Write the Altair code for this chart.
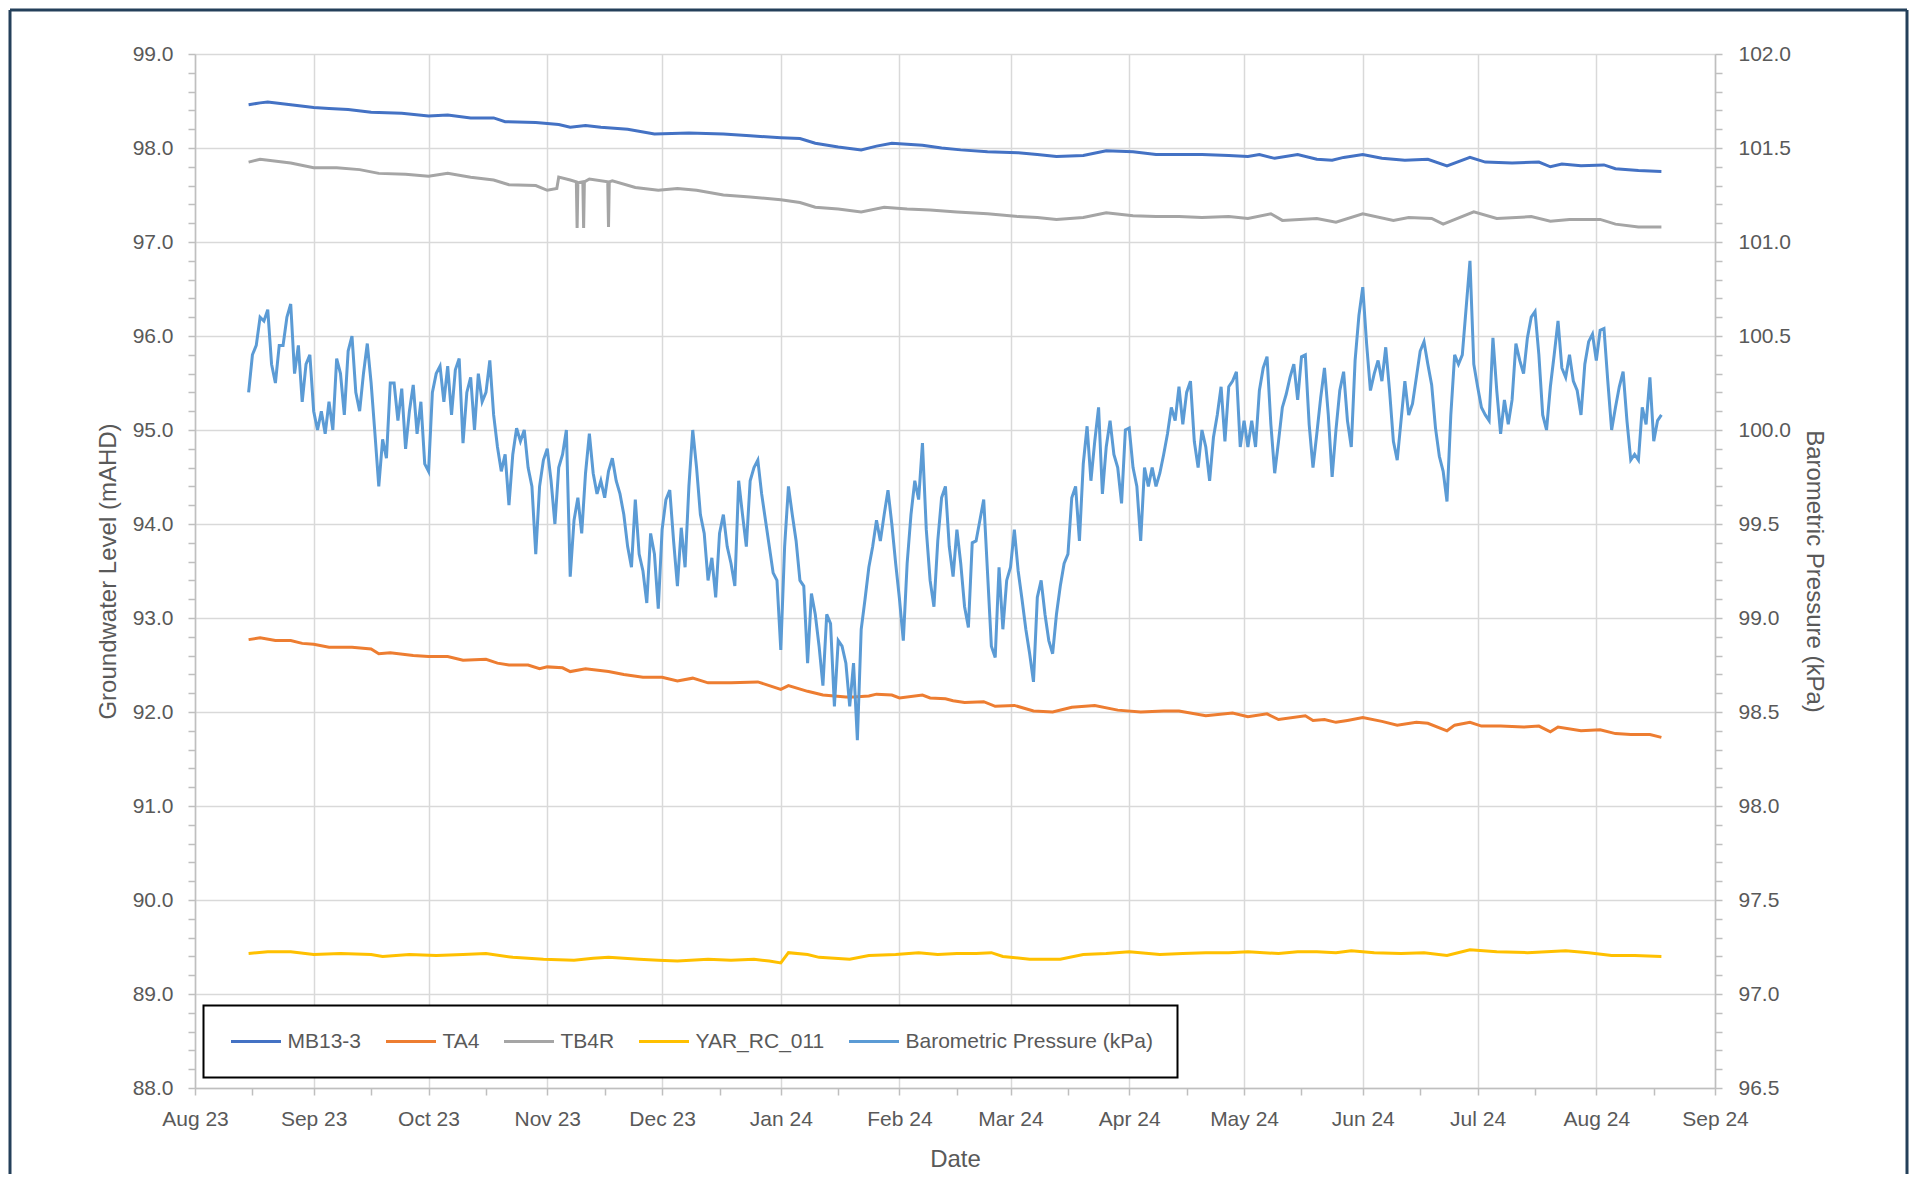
import altair as alt
import pandas as pd

FONT = "Liberation Sans"
TEXT = "#595959"
FRAME = "#24405A"

SERIES = ["MB13-3", "TA4", "TB4R", "YAR_RC_011", "Barometric Pressure (kPa)"]
COLORS = ["#4472C4", "#ED7D31", "#A5A5A5", "#FFC000", "#5B9BD5"]

# groundwater series: day offsets counted from BASE_DATE, levels in mAHD
BASE_DATE = "2023-08-01"

mb13_day = [14, 17, 19, 25, 31, 35, 40, 46, 54, 61, 66, 72, 78, 81, 89, 95, 98, 102, 106, 113,
            120, 129, 138, 145, 153, 158, 162, 168, 174, 178, 182, 186, 190, 195, 200, 207, 215, 220, 225, 232,
            238, 245, 251, 257, 263, 270, 275, 278, 282, 288, 293, 297, 300, 305, 310, 316, 322, 327, 333, 337,
            344, 351, 354, 357, 362, 368, 371, 377, 383]
mb13_level = [98.46, 98.48, 98.49, 98.46, 98.43, 98.42, 98.41, 98.38, 98.37, 98.34,
              98.35, 98.32, 98.32, 98.28, 98.27, 98.25, 98.22, 98.24, 98.22, 98.20,
              98.15, 98.16, 98.15, 98.13, 98.11, 98.10, 98.05, 98.01, 97.98, 98.02,
              98.05, 98.04, 98.03, 98.00, 97.98, 97.96, 97.95, 97.93, 97.91, 97.92,
              97.97, 97.96, 97.93, 97.93, 97.93, 97.92, 97.91, 97.93, 97.89, 97.93,
              97.88, 97.87, 97.90, 97.93, 97.89, 97.87, 97.88, 97.81, 97.90, 97.85,
              97.84, 97.85, 97.80, 97.83, 97.81, 97.82, 97.78, 97.76, 97.75]

ta4_day = [14, 17, 21, 25, 28, 31, 35, 41, 46, 48, 51, 57, 61, 66, 70, 76, 79, 82, 87, 90,
           92, 96, 98, 102, 108, 112, 117, 122, 126, 130, 134, 140, 147, 150, 153, 155, 160, 164, 170, 172,
           176, 178, 182, 184, 190, 192, 196, 198, 201, 206, 209, 214, 219, 224, 229, 235, 241, 247, 253, 257,
           264, 271, 275, 280, 283, 290, 292, 295, 298, 301, 305, 310, 314, 319, 322, 327, 329, 333, 336, 341,
           347, 351, 354, 356, 362, 367, 371, 375, 380, 383]
ta4_level = [92.77, 92.79, 92.76, 92.76, 92.73, 92.72, 92.69, 92.69, 92.67, 92.62,
             92.63, 92.60, 92.59, 92.59, 92.55, 92.56, 92.52, 92.50, 92.50, 92.46,
             92.48, 92.47, 92.43, 92.46, 92.43, 92.40, 92.37, 92.37, 92.33, 92.36,
             92.31, 92.31, 92.32, 92.28, 92.24, 92.28, 92.22, 92.18, 92.16, 92.16,
             92.17, 92.19, 92.18, 92.15, 92.18, 92.15, 92.14, 92.12, 92.10, 92.11,
             92.06, 92.07, 92.01, 92.00, 92.05, 92.07, 92.02, 92.00, 92.01, 92.01,
             91.96, 91.99, 91.95, 91.98, 91.92, 91.96, 91.91, 91.92, 91.89, 91.91,
             91.94, 91.90, 91.86, 91.89, 91.88, 91.80, 91.86, 91.89, 91.85, 91.85,
             91.84, 91.85, 91.79, 91.84, 91.80, 91.81, 91.77, 91.76, 91.76, 91.73]

tb4r_day = [14, 17, 25, 31, 37, 43, 48, 55, 61, 66, 72, 78, 82, 89, 92, 94.5, 95, 98, 99.6, 99.8,
            100.0, 101.3, 101.5, 101.7, 103, 107.8, 108.0, 108.2, 109, 115, 121, 126, 131, 138, 145, 153, 158, 162, 168, 174,
            180, 186, 192, 199, 207, 215, 220, 225, 232, 238, 245, 251, 257, 263, 270, 275, 281, 284, 293, 298,
            305, 313, 317, 323, 326, 334, 340, 349, 354, 359, 367, 371, 377, 383]
tb4r_level = [97.85, 97.88, 97.84, 97.79, 97.79, 97.77, 97.73, 97.72, 97.70, 97.73,
              97.69, 97.66, 97.61, 97.60, 97.55, 97.57, 97.69, 97.66, 97.64, 97.15,
              97.63, 97.64, 97.15, 97.64, 97.67, 97.64, 97.16, 97.64, 97.65, 97.58,
              97.55, 97.57, 97.55, 97.50, 97.48, 97.45, 97.42, 97.37, 97.35, 97.32,
              97.37, 97.35, 97.34, 97.32, 97.30, 97.27, 97.26, 97.24, 97.26, 97.31,
              97.28, 97.27, 97.27, 97.26, 97.27, 97.25, 97.30, 97.23, 97.25, 97.21,
              97.30, 97.23, 97.26, 97.25, 97.19, 97.32, 97.25, 97.27, 97.22, 97.24,
              97.24, 97.19, 97.16, 97.16]

yar_day = [14, 19, 25, 31, 38, 46, 49, 56, 63, 70, 76, 83, 91, 99, 104, 108, 116, 121, 126, 134,
           140, 146, 150, 153, 155, 160, 163, 171, 176, 183, 189, 194, 199, 204, 208, 211, 218, 226, 232, 238,
           244, 252, 258, 264, 270, 275, 283, 288, 293, 298, 302, 308, 315, 321, 327, 333, 340, 348, 353, 358,
           364, 370, 376, 383]
yar_level = [89.43, 89.45, 89.45, 89.42, 89.43, 89.42, 89.40, 89.42, 89.41, 89.42,
             89.43, 89.39, 89.37, 89.36, 89.38, 89.39, 89.37, 89.36, 89.35, 89.37,
             89.36, 89.37, 89.35, 89.33, 89.44, 89.42, 89.39, 89.37, 89.41, 89.42,
             89.44, 89.42, 89.43, 89.43, 89.44, 89.40, 89.37, 89.37, 89.42, 89.43,
             89.45, 89.42, 89.43, 89.44, 89.44, 89.45, 89.43, 89.45, 89.45, 89.44,
             89.46, 89.44, 89.43, 89.44, 89.41, 89.47, 89.45, 89.44, 89.45, 89.46,
             89.44, 89.41, 89.41, 89.40]

# barometric pressure: one reading per day from BARO_START, kPa
BARO_START = "2023-08-15"
baro_kpa = [
    100.20, 100.40, 100.45, 100.60, 100.58, 100.64, 100.35, 100.25, 100.45, 100.45,
    100.60, 100.67, 100.30, 100.45, 100.15, 100.35, 100.40, 100.10, 100.00, 100.10,
    99.98, 100.15, 100.00, 100.38, 100.30, 100.08, 100.42, 100.50, 100.20, 100.10,
    100.30, 100.46, 100.25, 99.98, 99.70, 99.95, 99.85, 100.25, 100.25, 100.05,
    100.22, 99.90, 100.10, 100.24, 99.98, 100.15, 99.82, 99.78, 100.20, 100.30,
    100.34, 100.15, 100.34, 100.08, 100.32, 100.38, 99.93, 100.20, 100.28, 100.00,
    100.30, 100.15, 100.20, 100.37, 100.08, 99.91, 99.78, 99.87, 99.60, 99.87,
    100.01, 99.94, 100.00, 99.80, 99.70, 99.34, 99.70, 99.84, 99.90, 99.73,
    99.50, 99.80, 99.87, 100.00, 99.22, 99.52, 99.64, 99.45, 99.77, 99.98,
    99.77, 99.66, 99.73, 99.64, 99.78, 99.85, 99.73, 99.66, 99.55, 99.38,
    99.27, 99.63, 99.34, 99.25, 99.08, 99.45, 99.34, 99.05, 99.47, 99.63,
    99.68, 99.41, 99.17, 99.48, 99.27, 99.70, 100.00, 99.80, 99.55, 99.45,
    99.20, 99.32, 99.11, 99.45, 99.55, 99.38, 99.29, 99.17, 99.73, 99.55,
    99.38, 99.73, 99.80, 99.84, 99.66, 99.52, 99.38, 99.24, 99.20, 98.83,
    99.38, 99.70, 99.55, 99.41, 99.20, 99.17, 98.76, 99.13, 99.02, 98.85,
    98.64, 99.02, 98.97, 98.53, 98.88, 98.85, 98.76, 98.53, 98.76, 98.35,
    98.94, 99.10, 99.27, 99.38, 99.52, 99.41, 99.55, 99.68, 99.50, 99.29,
    99.10, 98.88, 99.29, 99.55, 99.73, 99.63, 99.93, 99.47, 99.20, 99.06,
    99.41, 99.64, 99.70, 99.38, 99.22, 99.47, 99.29, 99.06, 98.95, 99.40,
    99.41, 99.52, 99.63, 99.24, 98.85, 98.79, 99.27, 98.94, 99.20, 99.27,
    99.47, 99.25, 99.10, 98.94, 98.81, 98.66, 99.11, 99.20, 99.02, 98.88,
    98.81, 99.02, 99.17, 99.29, 99.34, 99.64, 99.70, 99.41, 99.82, 100.02,
    99.73, 99.94, 100.12, 99.66, 99.91, 100.05, 99.87, 99.80, 99.61, 100.00,
    100.01, 99.80, 99.70, 99.41, 99.80, 99.70, 99.80, 99.70, 99.77, 99.87,
    99.98, 100.12, 100.05, 100.23, 100.03, 100.20, 100.26, 99.94, 99.80, 100.00,
    99.91, 99.73, 99.96, 100.08, 100.23, 99.94, 100.23, 100.26, 100.31, 99.91,
    100.05, 99.91, 100.05, 99.91, 100.21, 100.33, 100.39, 100.03, 99.77, 99.94,
    100.12, 100.19, 100.28, 100.35, 100.16, 100.39, 100.40, 100.03, 99.80, 99.98,
    100.17, 100.33, 100.08, 99.75, 100.00, 100.21, 100.31, 100.05, 99.91, 100.37,
    100.61, 100.76, 100.46, 100.21, 100.30, 100.37, 100.26, 100.44, 100.21, 99.94,
    99.84, 100.05, 100.26, 100.08, 100.14, 100.28, 100.42, 100.47, 100.35, 100.24,
    100.01, 99.86, 99.78, 99.62, 100.08, 100.40, 100.35, 100.40, 100.65, 100.90,
    100.35, 100.23, 100.12, 100.08, 100.05, 100.49, 100.21, 99.98, 100.16, 100.03,
    100.16, 100.46, 100.37, 100.30, 100.49, 100.60, 100.63, 100.40, 100.08, 100.00,
    100.23, 100.40, 100.58, 100.33, 100.28, 100.40, 100.26, 100.21, 100.08, 100.35,
    100.47, 100.51, 100.37, 100.53, 100.54, 100.26, 100.00, 100.12, 100.23, 100.31,
    100.05, 99.84, 99.87, 99.84, 100.12, 100.03, 100.28, 99.94, 100.05, 100.08,
]

# axis ticks
MONTHS = [(2023, m) for m in range(8, 13)] + [(2024, m) for m in range(1, 10)]
x_ticks = []
for i, (yy, mm) in enumerate(MONTHS):
    x_ticks.append(alt.DateTime(year=yy, month=mm, date=1))
    if i < len(MONTHS) - 1:
        x_ticks.append(alt.DateTime(year=yy, month=mm, date=16))
left_ticks = [round(88 + 0.2 * i, 1) for i in range(56)]
right_ticks = [round(96.5 + 0.1 * i, 1) for i in range(56)]

# ---- tables
base = pd.Timestamp(BASE_DATE)
rows = []
for name, days, vals in [("MB13-3", mb13_day, mb13_level), ("TA4", ta4_day, ta4_level),
                         ("TB4R", tb4r_day, tb4r_level), ("YAR_RC_011", yar_day, yar_level)]:
    for d, v in zip(days, vals):
        rows.append({"date": base + pd.Timedelta(days=d), "level": v, "series": name})
gw = pd.DataFrame(rows)
baro = pd.DataFrame({"date": pd.date_range(BARO_START, periods=len(baro_kpa), freq="D"),
                     "kpa": baro_kpa, "series": SERIES[4]})

color = alt.Color(
    "series:N",
    scale=alt.Scale(domain=SERIES, range=COLORS),
    sort=SERIES,
    legend=alt.Legend(
        orient="none", legendX=8.5, legendY=951.5, direction="horizontal", columns=5,
        title=None, symbolType="stroke", symbolSize=2500, symbolStrokeWidth=3,
        symbolOffset=2, labelOffset=5, columnPadding=21, padding=24, clipHeight=24,
        strokeColor="#000000", fillColor="#FFFFFF", labelLimit=600,
        labelFont=FONT, labelFontSize=21, labelColor=TEXT,
    ),
)

x_enc = alt.X(
    "date:T", title="Date",
    scale=alt.Scale(domain=[alt.DateTime(year=2023, month=8, date=1),
                            alt.DateTime(year=2024, month=9, date=1)]),
    axis=alt.Axis(
        values=x_ticks,
        labelExpr="date(datum.value) == 1 ? timeFormat(datum.value, '%b %y') : ''",
        gridOpacity={"condition": {"test": "date(datum.value) == 1", "value": 1}, "value": 0},
        grid=True, tickSize=7, labelPadding=30, labelBaseline="alphabetic",
        labelOverlap=False, labelFlush=False, labelBound=False,
        titleY=78, titleBaseline="alphabetic",
    ),
)

left = alt.Chart(gw).mark_line(strokeWidth=3).encode(
    x=x_enc,
    y=alt.Y("level:Q", title="Groundwater Level (mAHD)",
            scale=alt.Scale(domain=[88, 99], nice=False, zero=False),
            axis=alt.Axis(
                values=left_ticks,
                labelExpr="abs(datum.value - round(datum.value)) < 0.01 ? format(datum.value, '.1f') : ''",
                gridOpacity={"condition": {"test": "abs(datum.value - round(datum.value)) < 0.01", "value": 1}, "value": 0},
                grid=True, tickSize=7, labelPadding=15, labelOverlap=False,
                titleX=-86.5, titleBaseline="middle",
            )),
    color=color,
)

right = alt.Chart(baro).mark_line(strokeWidth=3).encode(
    x=x_enc,
    y=alt.Y("kpa:Q", title="Barometric Pressure (kPa)",
            scale=alt.Scale(domain=[96.5, 102], nice=False, zero=False),
            axis=alt.Axis(
                orient="right", values=right_ticks,
                labelExpr="abs(datum.value * 2 - round(datum.value * 2)) < 0.01 ? format(datum.value, '.1f') : ''",
                grid=False, tickSize=7, labelPadding=16, labelOverlap=False,
                titleAngle=90, titleX=98.5, titleBaseline="middle",
            )),
    color=color,
)

one = pd.DataFrame({"k": [0]})
frame_l = alt.Chart(one).mark_rule(color=FRAME, strokeWidth=3).encode(
    x=alt.value(-185), y=alt.value(-44), y2=alt.value(1120))
frame_t = alt.Chart(one).mark_rule(color=FRAME, strokeWidth=3).encode(
    x=alt.value(-185), x2=alt.value(1712), y=alt.value(-44))
frame_r = alt.Chart(one).mark_rule(color=FRAME, strokeWidth=3).encode(
    x=alt.value(1712), y=alt.value(-44), y2=alt.value(1120))

chart = (
    alt.layer(left, right, frame_l, frame_t, frame_r)
    .resolve_scale(y="independent")
    .properties(width=1520, height=1034, padding=0, background="#FFFFFF")
    .configure_view(strokeWidth=0)
    .configure_axis(
        labelFont=FONT, titleFont=FONT, labelFontSize=21, titleFontSize=24,
        labelColor=TEXT, titleColor=TEXT, titleFontWeight="normal",
        domainColor="#BFBFBF", tickColor="#BFBFBF", gridColor="#D9D9D9",
        gridWidth=1.5, domainWidth=1.5, tickWidth=1.5,
    )
    .configure_legend(strokeWidth=2)
)

chart.save("out.html", embed_options={"renderer": "svg", "actions": False})
